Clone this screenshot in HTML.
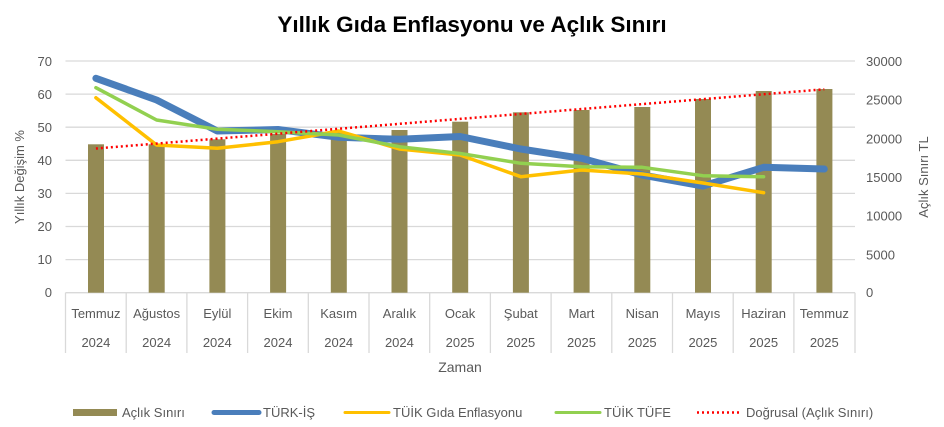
<!DOCTYPE html>
<html><head><meta charset="utf-8"><style>
html,body{margin:0;padding:0;background:#fff;}
svg{display:block;font-family:"Liberation Sans","DejaVu Sans",sans-serif;}
</style></head><body>
<svg width="944" height="427" viewBox="0 0 944 427" xmlns="http://www.w3.org/2000/svg">
<rect width="944" height="427" fill="#fff"/>
<text x="472" y="32" text-anchor="middle" font-size="22.5" font-weight="bold" fill="#000">Yıllık Gıda Enflasyonu ve Açlık Sınırı</text>
<g stroke="#d9d9d9" stroke-width="1.3">
<line x1="65.5" x2="855" y1="61" y2="61"/><line x1="65.5" x2="855" y1="94.1" y2="94.1"/>
<line x1="65.5" x2="855" y1="127.2" y2="127.2"/><line x1="65.5" x2="855" y1="160.3" y2="160.3"/>
<line x1="65.5" x2="855" y1="193.4" y2="193.4"/><line x1="65.5" x2="855" y1="226.5" y2="226.5"/>
<line x1="65.5" x2="855" y1="259.6" y2="259.6"/><line x1="65.5" x2="855" y1="292.7" y2="292.7"/>
<line x1="65.5" x2="65.5" y1="292.7" y2="353"/><line x1="126.2" x2="126.2" y1="292.7" y2="353"/>
<line x1="186.9" x2="186.9" y1="292.7" y2="353"/><line x1="247.6" x2="247.6" y1="292.7" y2="353"/>
<line x1="308.3" x2="308.3" y1="292.7" y2="353"/><line x1="369" x2="369" y1="292.7" y2="353"/>
<line x1="429.7" x2="429.7" y1="292.7" y2="353"/><line x1="490.4" x2="490.4" y1="292.7" y2="353"/>
<line x1="551.1" x2="551.1" y1="292.7" y2="353"/><line x1="611.8" x2="611.8" y1="292.7" y2="353"/>
<line x1="672.5" x2="672.5" y1="292.7" y2="353"/><line x1="733.2" x2="733.2" y1="292.7" y2="353"/>
<line x1="793.9" x2="793.9" y1="292.7" y2="353"/><line x1="855" x2="855" y1="292.7" y2="353"/>
</g>
<g font-size="13" fill="#595959" text-anchor="end">
<text x="52" y="66">70</text><text x="52" y="99">60</text><text x="52" y="132">50</text><text x="52" y="165">40</text>
<text x="52" y="198">30</text><text x="52" y="231">20</text><text x="52" y="264">10</text><text x="52" y="297">0</text>
</g>
<g font-size="13" fill="#595959" text-anchor="start">
<text x="866" y="66">30000</text><text x="866" y="104.6">25000</text><text x="866" y="143.3">20000</text>
<text x="866" y="182">15000</text><text x="866" y="220.7">10000</text><text x="866" y="259.3">5000</text><text x="866" y="297">0</text>
</g>
<text transform="translate(24,177) rotate(-90)" text-anchor="middle" font-size="13" fill="#595959">Yıllık Değişim %</text>
<text transform="translate(928,177) rotate(-90)" text-anchor="middle" font-size="13" fill="#595959">Açlık Sınırı TL</text>
<g fill="#948a54">
<rect x="88" y="144.3" width="16" height="148.4"/><rect x="148.7" y="144.3" width="16" height="148.4"/>
<rect x="209.4" y="139.3" width="16" height="153.4"/><rect x="270.1" y="134" width="16" height="158.7"/>
<rect x="330.8" y="132" width="16" height="160.7"/><rect x="391.5" y="130" width="16" height="162.7"/>
<rect x="452.2" y="121.7" width="16" height="171"/><rect x="512.9" y="112.3" width="16" height="180.4"/>
<rect x="573.6" y="110" width="16" height="182.7"/><rect x="634.3" y="107" width="16" height="185.7"/>
<rect x="695" y="99" width="16" height="193.7"/><rect x="755.7" y="91" width="16" height="201.7"/>
<rect x="816.4" y="89" width="16" height="203.7"/>
</g>
<polyline fill="none" stroke="#4a7ebb" stroke-width="7" stroke-linejoin="round" stroke-linecap="round" points="95.9,78.3 156.6,100 217.3,131 278,129.5 338.7,137.3 399.4,139.3 460.1,136.5 520.8,149 581.5,158.3 642.2,175 702.9,186 763.6,167.3 824.3,169"/>
<polyline fill="none" stroke="#ffc000" stroke-width="3.5" stroke-linejoin="round" stroke-linecap="round" points="95.9,97.7 156.6,145 217.3,148.3 278,141.7 338.7,131 399.4,149 460.1,155 520.8,176.7 581.5,170 642.2,174 702.9,183 763.6,192.7"/>
<polyline fill="none" stroke="#92d050" stroke-width="3.5" stroke-linejoin="round" stroke-linecap="round" points="95.9,87.7 156.6,120 217.3,129.3 278,131.7 338.7,135 399.4,146.7 460.1,153.5 520.8,163.3 581.5,166.7 642.2,167.3 702.9,175.7 763.6,176.7"/>
<line x1="95.9" y1="148.5" x2="824.3" y2="89.3" stroke="#ff0000" stroke-width="2.5" stroke-dasharray="2 3"/>
<g font-size="13" fill="#595959" text-anchor="middle">
<text x="95.9" y="318">Temmuz</text><text x="156.6" y="318">Ağustos</text><text x="217.3" y="318">Eylül</text>
<text x="278" y="318">Ekim</text><text x="338.7" y="318">Kasım</text><text x="399.4" y="318">Aralık</text>
<text x="460.1" y="318">Ocak</text><text x="520.8" y="318">Şubat</text><text x="581.5" y="318">Mart</text>
<text x="642.2" y="318">Nisan</text><text x="702.9" y="318">Mayıs</text><text x="763.6" y="318">Haziran</text>
<text x="824.3" y="318">Temmuz</text>
<text x="95.9" y="347">2024</text><text x="156.6" y="347">2024</text><text x="217.3" y="347">2024</text>
<text x="278" y="347">2024</text><text x="338.7" y="347">2024</text><text x="399.4" y="347">2024</text>
<text x="460.1" y="347">2025</text><text x="520.8" y="347">2025</text><text x="581.5" y="347">2025</text>
<text x="642.2" y="347">2025</text><text x="702.9" y="347">2025</text><text x="763.6" y="347">2025</text>
<text x="824.3" y="347">2025</text>
<text x="460" y="372" font-size="14">Zaman</text>
</g>
<g font-size="13" fill="#595959">
<rect x="73" y="409" width="44" height="7" fill="#948a54"/>
<text x="122" y="417">Açlık Sınırı</text>
<line x1="214" y1="412.5" x2="259" y2="412.5" stroke="#4a7ebb" stroke-width="5" stroke-linecap="round"/>
<text x="263" y="417">TÜRK-İŞ</text>
<line x1="345" y1="412.5" x2="389" y2="412.5" stroke="#ffc000" stroke-width="3" stroke-linecap="round"/>
<text x="393" y="417">TÜİK Gıda Enflasyonu</text>
<line x1="556" y1="412.5" x2="600" y2="412.5" stroke="#92d050" stroke-width="3" stroke-linecap="round"/>
<text x="604" y="417">TÜİK TÜFE</text>
<line x1="697" y1="412.5" x2="741" y2="412.5" stroke="#ff0000" stroke-width="2.5" stroke-dasharray="2 3"/>
<text x="746" y="417">Doğrusal (Açlık Sınırı)</text>
</g>
</svg>
</body></html>
